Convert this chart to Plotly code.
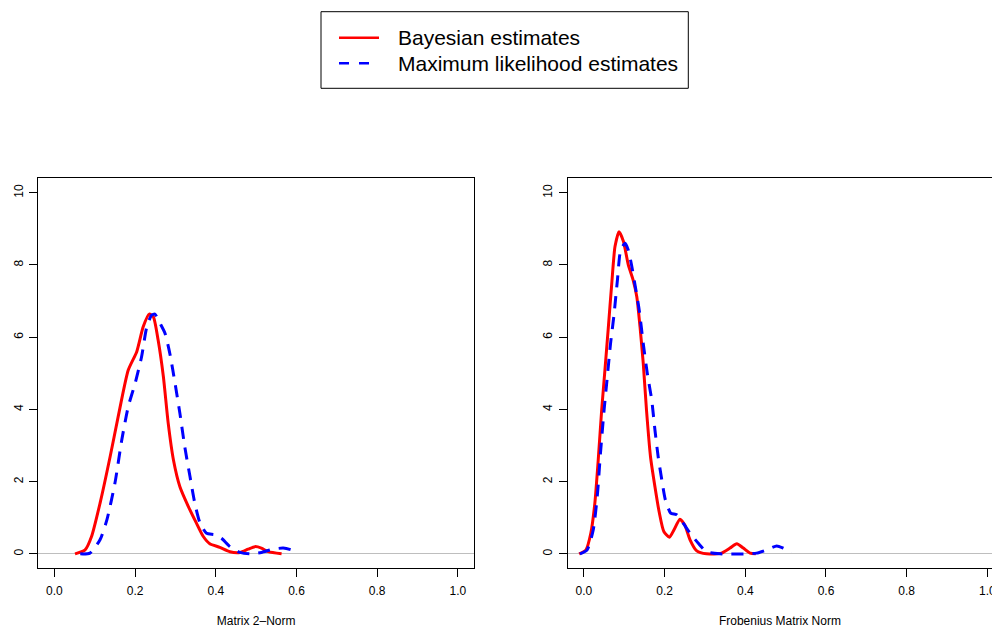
import plotly.graph_objects as go

# ---- data ----
x_2norm_bayes = [0.051, 0.076, 0.092, 0.113, 0.138, 0.158, 0.183, 0.204, 0.220, 0.235, 0.245, 0.257,
                 0.270, 0.282, 0.295, 0.311, 0.332, 0.352, 0.369, 0.385, 0.410, 0.435, 0.460, 0.480,
                 0.497, 0.513, 0.530, 0.563]
y_2norm_bayes = [0.0, 0.11, 0.48, 1.40, 2.69, 3.80, 5.09, 5.60, 6.29, 6.64, 6.57, 5.92,
                 4.91, 3.62, 2.60, 1.86, 1.31, 0.85, 0.48, 0.28, 0.18, 0.06, 0.04, 0.13,
                 0.20, 0.16, 0.06, 0.0]

x_2norm_ml = [0.064, 0.088, 0.113, 0.130, 0.150, 0.167, 0.183, 0.200, 0.216, 0.229, 0.241, 0.249,
              0.262, 0.274, 0.286, 0.299, 0.311, 0.323, 0.336, 0.348, 0.361, 0.377, 0.398, 0.414,
              0.435, 0.460, 0.484, 0.513, 0.542, 0.567, 0.587, 0.604]
y_2norm_ml = [0.0, 0.02, 0.39, 0.94, 1.96, 3.16, 4.08, 4.72, 5.46, 6.29, 6.61, 6.64,
              6.38, 6.11, 5.55, 4.72, 3.89, 2.97, 2.14, 1.40, 0.85, 0.57, 0.53, 0.43,
              0.20, 0.04, 0.0, 0.04, 0.13, 0.16, 0.11, 0.02]

x_frob_bayes = [-0.012, 0.005, 0.017, 0.027, 0.036, 0.044, 0.052, 0.060, 0.069, 0.077, 0.087, 0.098,
                0.110, 0.122, 0.131, 0.139, 0.147, 0.155, 0.165, 0.176, 0.187, 0.198, 0.212, 0.223,
                0.238, 0.250, 0.263, 0.279, 0.304, 0.341, 0.362, 0.379, 0.395, 0.412, 0.426]
y_frob_bayes = [0.0, 0.11, 0.57, 1.40, 2.69, 3.99, 5.09, 6.20, 7.49, 8.51, 8.92, 8.65,
                8.00, 7.58, 7.12, 6.29, 5.28, 3.99, 2.69, 1.86, 1.13, 0.62, 0.46, 0.66,
                0.96, 0.80, 0.39, 0.09, 0.0, 0.02, 0.16, 0.28, 0.16, 0.02, 0.0]

x_frob_ml = [-0.010, 0.008, 0.023, 0.033, 0.041, 0.050, 0.058, 0.066, 0.074, 0.083, 0.091, 0.102,
             0.110, 0.118, 0.126, 0.137, 0.147, 0.157, 0.168, 0.176, 0.184, 0.193, 0.202, 0.215,
             0.230, 0.246, 0.263, 0.283, 0.304, 0.337, 0.399, 0.428, 0.453, 0.478, 0.494, 0.515]
y_frob_ml = [0.0, 0.11, 0.66, 1.59, 2.79, 3.99, 4.91, 5.83, 6.57, 7.58, 8.41, 8.60,
             8.41, 8.00, 7.49, 6.75, 5.83, 5.00, 4.26, 3.43, 2.69, 2.05, 1.49, 1.13,
             1.08, 0.85, 0.57, 0.30, 0.06, 0.0, 0.0, 0.02, 0.11, 0.22, 0.16, 0.04]

series_names = ["Bayesian estimates", "Maximum likelihood estimates"]
axis_titles = ["Matrix 2\u2013Norm", "Frobenius Matrix Norm"]
x_ticks = [0.0, 0.2, 0.4, 0.6, 0.8, 1.0]
y_ticks = [0, 2, 4, 6, 8, 10]

W, H = 992, 628
FONT = "Liberation Sans, Arial, Helvetica, sans-serif"
RED = "#FF0000"
BLUE = "#0000FF"
DASH = "12px,9px"

fig = go.Figure()

panels = [
    (x_2norm_bayes, y_2norm_bayes, x_2norm_ml, y_2norm_ml, "x", "y"),
    (x_frob_bayes, y_frob_bayes, x_frob_ml, y_frob_ml, "x2", "y2"),
]
for xb, yb, xm, ym, xa, ya in panels:
    fig.add_trace(go.Scatter(x=xb, y=yb, mode="lines", name=series_names[0],
                             line=dict(color=RED, width=3, shape="spline", smoothing=0.6),
                             xaxis=xa, yaxis=ya, showlegend=False))
    fig.add_trace(go.Scatter(x=xm, y=ym, mode="lines", name=series_names[1],
                             line=dict(color=BLUE, width=3, dash=DASH, shape="spline", smoothing=0.6),
                             xaxis=xa, yaxis=ya, showlegend=False))

y_dom = [59.7 / H, 449.7 / H]
px_per_unit = (474.0 - 38.3) / 1.08

def xaxis_cfg(dom, rng, title, anchor):
    return dict(domain=dom, range=rng, anchor=anchor, tickmode="array", tickvals=x_ticks,
                tickformat=".1f", ticks="outside", ticklen=8, tickwidth=1, tickcolor="black",
                showline=True, linecolor="black", linewidth=1, mirror=True,
                showgrid=False, zeroline=False, ticklabeloverflow="allow", ticklabelstandoff=3,
                tickfont=dict(family=FONT, size=12, color="black"),
                title=dict(text=title, font=dict(family=FONT, size=12, color="black"), standoff=21))

def yaxis_cfg(anchor, mirror):
    return dict(domain=y_dom, range=[-0.4, 10.4], anchor=anchor, tickmode="array", tickvals=y_ticks,
                ticks="outside", ticklen=8, tickwidth=1, tickcolor="black", tickangle=-90,
                showline=True, linecolor="black", linewidth=1, mirror=mirror,
                showgrid=False, zeroline=True, zerolinecolor="#BEBEBE", zerolinewidth=1,
                ticklabelstandoff=2,
                tickfont=dict(family=FONT, size=12, color="black"))

right_w = (W - 567.8) / px_per_unit
fig.update_layout(
    width=W, height=H,
    margin=dict(l=0, r=0, t=0, b=0),
    paper_bgcolor="white", plot_bgcolor="white",
    template="none",
    showlegend=False,
    xaxis=xaxis_cfg([38.3 / W, 474.0 / W], [-0.04, 1.04], axis_titles[0], "y"),
    yaxis=yaxis_cfg("x", True),
    xaxis2=xaxis_cfg([567.8 / W, 1.0], [-0.04, -0.04 + right_w], axis_titles[1], "y2"),
    yaxis2=yaxis_cfg("x2", False),
)

# ---- legend box (drawn as in the reference) ----
def px(xp):
    return xp / W

def py(yp):
    return 1 - yp / H

fig.add_shape(type="rect", xref="paper", yref="paper",
              x0=px(321), x1=px(688.3), y0=py(88.3), y1=py(11.7),
              line=dict(color="black", width=1), fillcolor="white")
fig.add_shape(type="line", xref="paper", yref="paper",
              x0=px(339), x1=px(379), y0=py(37.7), y1=py(37.7),
              line=dict(color=RED, width=2.5))
fig.add_shape(type="line", xref="paper", yref="paper",
              x0=px(339), x1=px(379), y0=py(63.3), y1=py(63.3),
              line=dict(color=BLUE, width=2.5, dash="10px,10px"))
for name, yp in zip(series_names, [37.7, 63.3]):
    fig.add_annotation(xref="paper", yref="paper", x=px(396), y=py(yp),
                       xanchor="left", yanchor="middle", showarrow=False, text=name,
                       font=dict(family=FONT, size=21, color="black"))

fig.write_html("out.html", config={"displayModeBar": False},
               post_script="document.body.style.margin='0';")
